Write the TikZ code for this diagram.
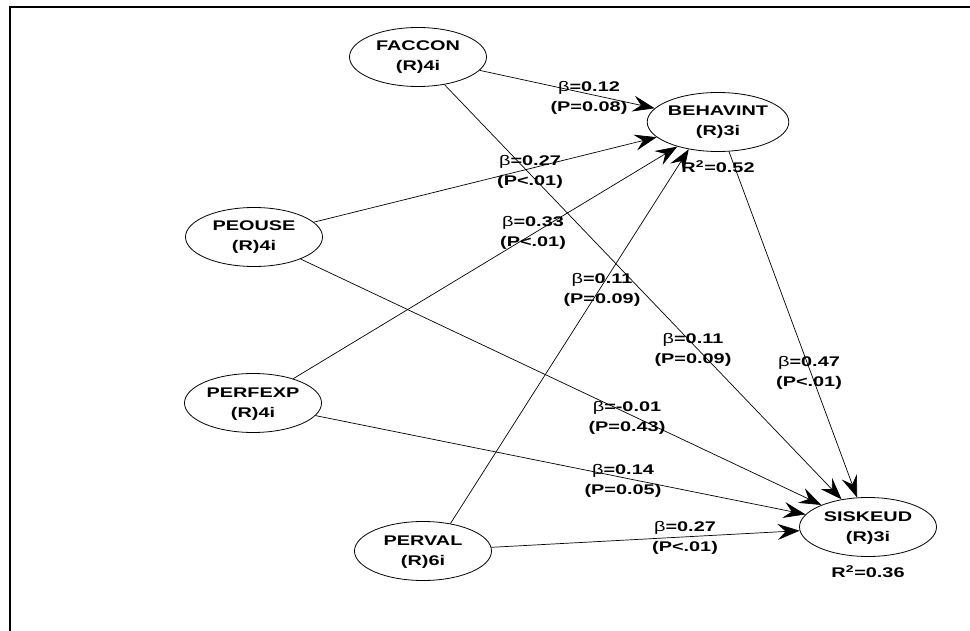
\documentclass[tikz,border=0pt]{standalone}
\usepackage{graphicx}
\usepackage{fontspec}
\newfontfamily\lbf{Liberation Sans Bold}
\newfontfamily\lrg{Liberation Sans}
\newcommand{\twol}[2]{\scalebox{1.42}[1]{\begin{tabular}{@{}c@{}}#1\\#2\end{tabular}}}
\newcommand{\onel}[1]{\scalebox{1.42}[1]{#1}}
\usetikzlibrary{arrows.meta,shapes.geometric}
\begin{document}
\begin{tikzpicture}[x=1pt,y=-1pt,
  lv/.style={ellipse,draw,line width=0.8pt,minimum width=137pt,minimum height=59pt,inner sep=0pt,font=\lbf\fontsize{14}{20}\selectfont},
  pth/.style={line width=0.7pt,-{Stealth[length=22pt,width=16pt,inset=8pt]}},
  lbl/.style={inner sep=0pt,font=\lbf\fontsize{14}{20}\selectfont}]
\useasboundingbox (0,0) rectangle (970,631);
\fill[white] (0,0) rectangle (970,631);
\draw[line width=2.5pt] (10,631) -- (10,7) -- (970,7);

\node[lv] (faccon) at (418,57) {\twol{FACCON}{(R)4i}};
\node[lv] (behav) at (718,122) {\twol{BEHAVINT}{(R)3i}};
\node[lv] (peouse) at (254,237) {\twol{PEOUSE}{(R)4i}};
\node[lv] (perfexp) at (253,403) {\twol{PERFEXP}{(R)4i}};
\node[lv] (perval) at (423,551) {\twol{PERVAL}{(R)6i}};
\node[lv] (sis) at (868,527) {\twol{SISKEUD}{(R)3i}};

\draw[pth] (faccon) -- (behav);
\draw[pth] (peouse) -- (behav);
\draw[pth] (perfexp) -- (behav);
\draw[pth] (perval.45) -- (behav.223);
\draw[pth] (behav) -- (sis);
\draw[pth] (faccon) -- (sis);
\draw[pth] (peouse) -- (sis);
\draw[pth] (perfexp) -- (sis);
\draw[pth] (perval) -- (sis);

\node[lbl] (r1) at (718,167) {\onel{R\textsuperscript{2}=0.52}};
\node[lbl] (r2) at (868,572) {\onel{R\textsuperscript{2}=0.36}};

\node[lbl] (b1) at (589,98) {\twol{{\lrg β}=0.12}{(P=0.08)}};
\node[lbl] (b2) at (530,172) {\twol{{\lrg β}=0.27}{(P<.01)}};
\node[lbl] (b3) at (533,233) {\twol{{\lrg β}=0.33}{(P<.01)}};
\node[lbl] (b4) at (602,290) {\twol{{\lrg β}=0.11}{(P=0.09)}};
\node[lbl] (b5) at (693,350) {\twol{{\lrg β}=0.11}{(P=0.09)}};
\node[lbl] (b6) at (809,372) {\twol{{\lrg β}=0.47}{(P<.01)}};
\node[lbl] (b7) at (627,417) {\twol{{\lrg β}=-0.01}{(P=0.43)}};
\node[lbl] (b8) at (623,480) {\twol{{\lrg β}=0.14}{(P=0.05)}};
\node[lbl] (b9) at (685,537) {\twol{{\lrg β}=0.27}{(P<.01)}};
\end{tikzpicture}
\end{document}
